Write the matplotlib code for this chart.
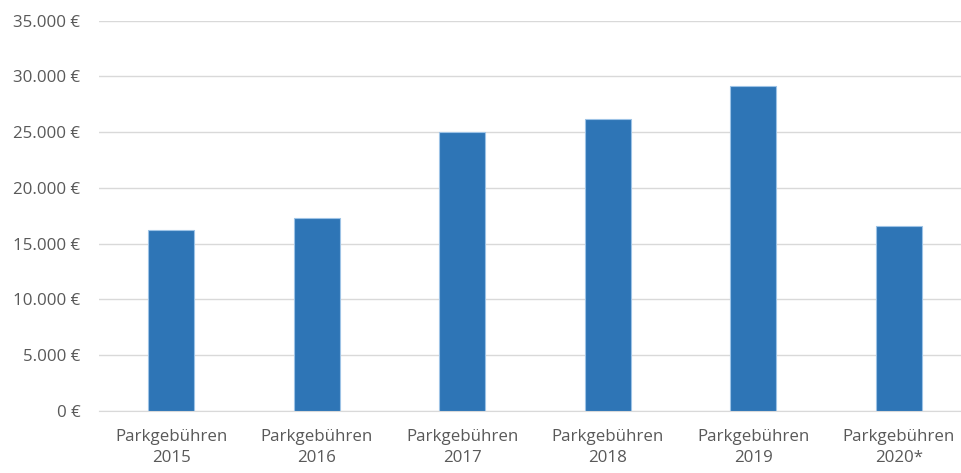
import matplotlib.pyplot as plt
from matplotlib.ticker import FuncFormatter

plt.rcParams['font.family'] = ['Open Sans', 'DejaVu Sans']

# data
categories = ['Parkgebühren\n2015', 'Parkgebühren\n2016', 'Parkgebühren\n2017',
              'Parkgebühren\n2018', 'Parkgebühren\n2019', 'Parkgebühren\n2020*']
values = [16250, 17300, 25000, 26200, 29100, 16550]
y_ticks = [0, 5000, 10000, 15000, 20000, 25000, 30000, 35000]

fig = plt.figure(figsize=(9.62, 4.73), dpi=100)
# plot area is cut off at the right edge like in the original
ax = fig.add_axes([98.5 / 962, 62.3 / 473, 873 / 962, 390 / 473])

x = list(range(len(categories)))
ax.bar(x, values, width=0.317, color='#2E75B6', edgecolor='#9DC3E6', linewidth=0.8, zorder=3)

ax.set_xlim(-0.5, len(categories) - 0.5)
ax.set_ylim(0, 35000)
ax.set_yticks(y_ticks)

def euro(v, pos):
    return '{:,.0f} €'.format(v).replace(',', '.')

ax.yaxis.set_major_formatter(FuncFormatter(euro))
ax.set_xticks(x)
ax.set_xticklabels(categories, linespacing=1.45)

ax.grid(axis='y', color='#D9D9D9', linewidth=1, zorder=0)
for s in ['top', 'right', 'left']:
    ax.spines[s].set_visible(False)
ax.spines['bottom'].set_color('#D9D9D9')
ax.tick_params(axis='both', length=0, colors='#595959', labelsize=12.2)
ax.tick_params(axis='y', pad=13)
ax.tick_params(axis='x', pad=13)

plt.savefig('out.png', dpi=100)
